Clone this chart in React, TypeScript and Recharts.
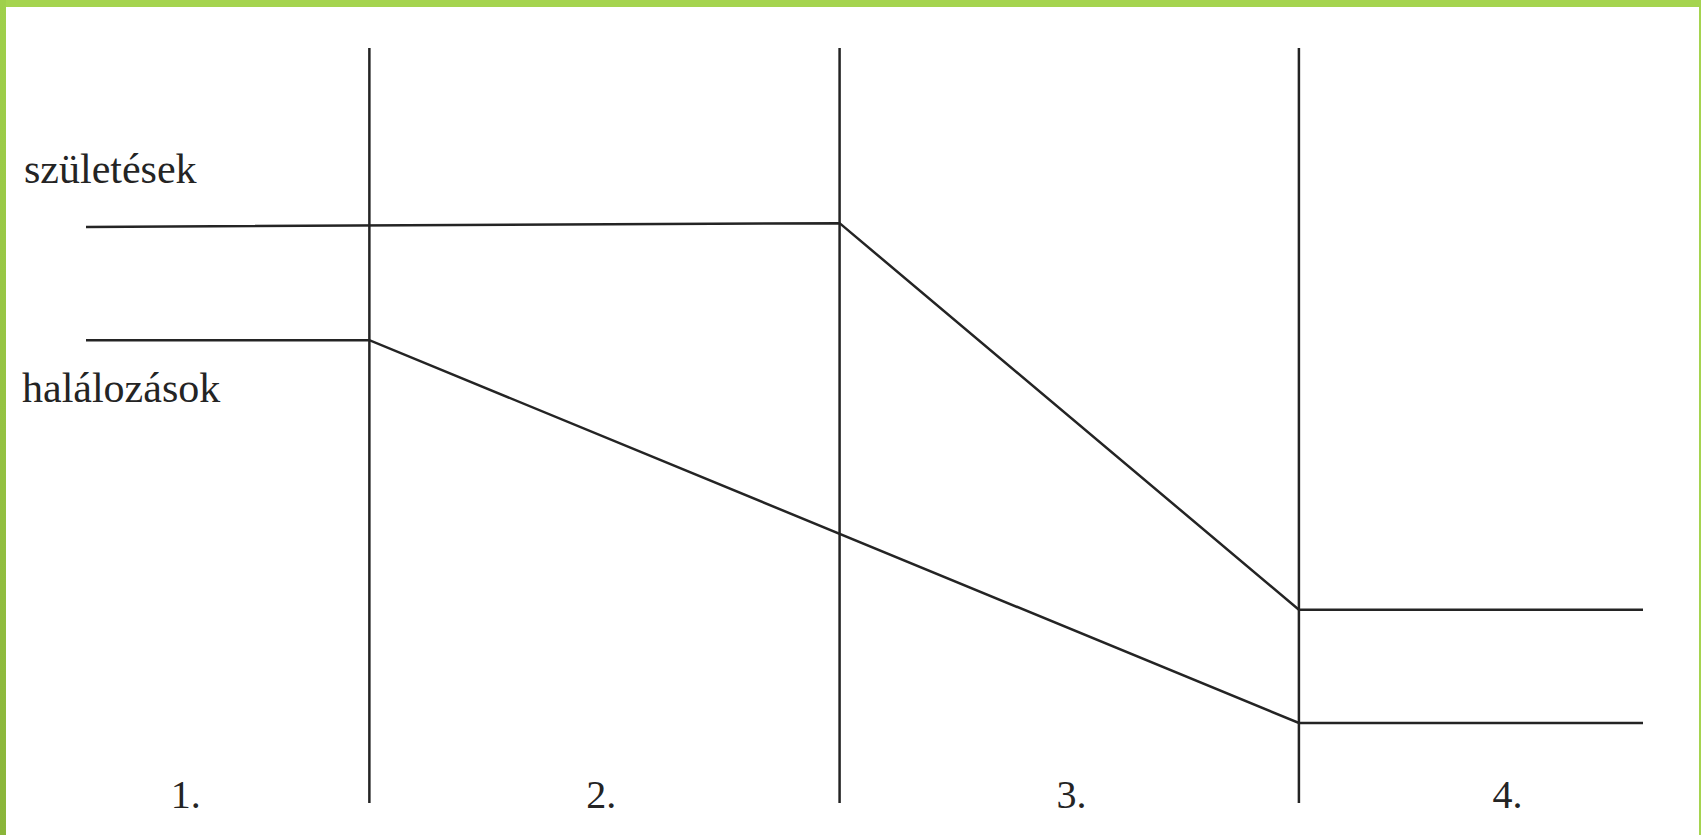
import { Line, LineChart, ReferenceLine, XAxis, YAxis, LabelList } from "recharts";

// x runs 0..100 across the drawn width, y runs 0..100 bottom to top
const periodLabels = ["1.", "2.", "3.", "4."];
const periodLabelX = [6.4, 33.1, 63.3, 91.3];
const periodBoundaries = [18.2, 48.4, 77.9];

const birthX = [0, 48.4, 77.9, 100];
const birthY = [76.3, 76.8, 25.6, 25.6];
const deathX = [0, 18.2, 77.9, 100];
const deathY = [61.3, 61.3, 10.6, 10.6];

const births = birthX.map((x, i) => ({ x, y: birthY[i] }));
const deaths = deathX.map((x, i) => ({ x, y: deathY[i] }));

const ink = "#242424";
const serif = "'Liberation Serif', 'Times New Roman', serif";

const PeriodTick = ({ x, y, payload }: any) => {
  const i = periodLabelX.indexOf(payload.value);
  return (
    <text x={x} y={y} dy={-3} textAnchor="middle" style={{ fontFamily: serif, fontSize: 40 }} fill={ink}>
      {periodLabels[i]}
    </text>
  );
};

const seriesLabel = (text: string, dx: number, dy: number) => (props: any) => {
  if (props.index !== 0) return null;
  return (
    <text x={props.x + dx} y={props.y + dy} style={{ fontFamily: serif, fontSize: 42 }} fill={ink}>
      {text}
    </text>
  );
};

const App = () => {
  return (
    <div style={{ position: "relative", width: 1701, height: 835, background: "#fff" }}>
      <style>{`body{margin:0}`}</style>
      <LineChart
        width={1701}
        height={835}
        margin={{ top: 48, right: 58, left: 86, bottom: 2 }}
      >
        <XAxis
          type="number"
          dataKey="x"
          domain={[0, 100]}
          ticks={periodLabelX}
          tick={<PeriodTick />}
          axisLine={false}
          tickLine={false}
          height={30}
          allowDataOverflow
        />
        <YAxis type="number" domain={[0, 100]} hide />
        {periodBoundaries.map((b) => (
          <ReferenceLine key={b} x={b} stroke={ink} strokeWidth={2.5} ifOverflow="visible" />
        ))}
        <Line
          data={births}
          dataKey="y"
          stroke={ink}
          strokeWidth={2.5}
          dot={false}
          activeDot={false}
          isAnimationActive={false}
        >
          <LabelList dataKey="y" content={seriesLabel("születések", -62, -44)} />
        </Line>
        <Line
          data={deaths}
          dataKey="y"
          stroke={ink}
          strokeWidth={2.5}
          dot={false}
          activeDot={false}
          isAnimationActive={false}
        >
          <LabelList dataKey="y" content={seriesLabel("halálozások", -64, 62)} />
        </Line>
      </LineChart>
      <div style={{ position: "absolute", left: 0, top: 0, width: 1701, height: 7, background: "#a5d44f" }} />
      <div
        style={{
          position: "absolute",
          left: 0,
          top: 0,
          width: 6,
          height: 835,
          background: "linear-gradient(#9fd04b, #8ab53a)",
        }}
      />
      <div style={{ position: "absolute", right: 0, top: 0, width: 2, height: 835, background: "#a5d44f" }} />
    </div>
  );
};

export default App;
